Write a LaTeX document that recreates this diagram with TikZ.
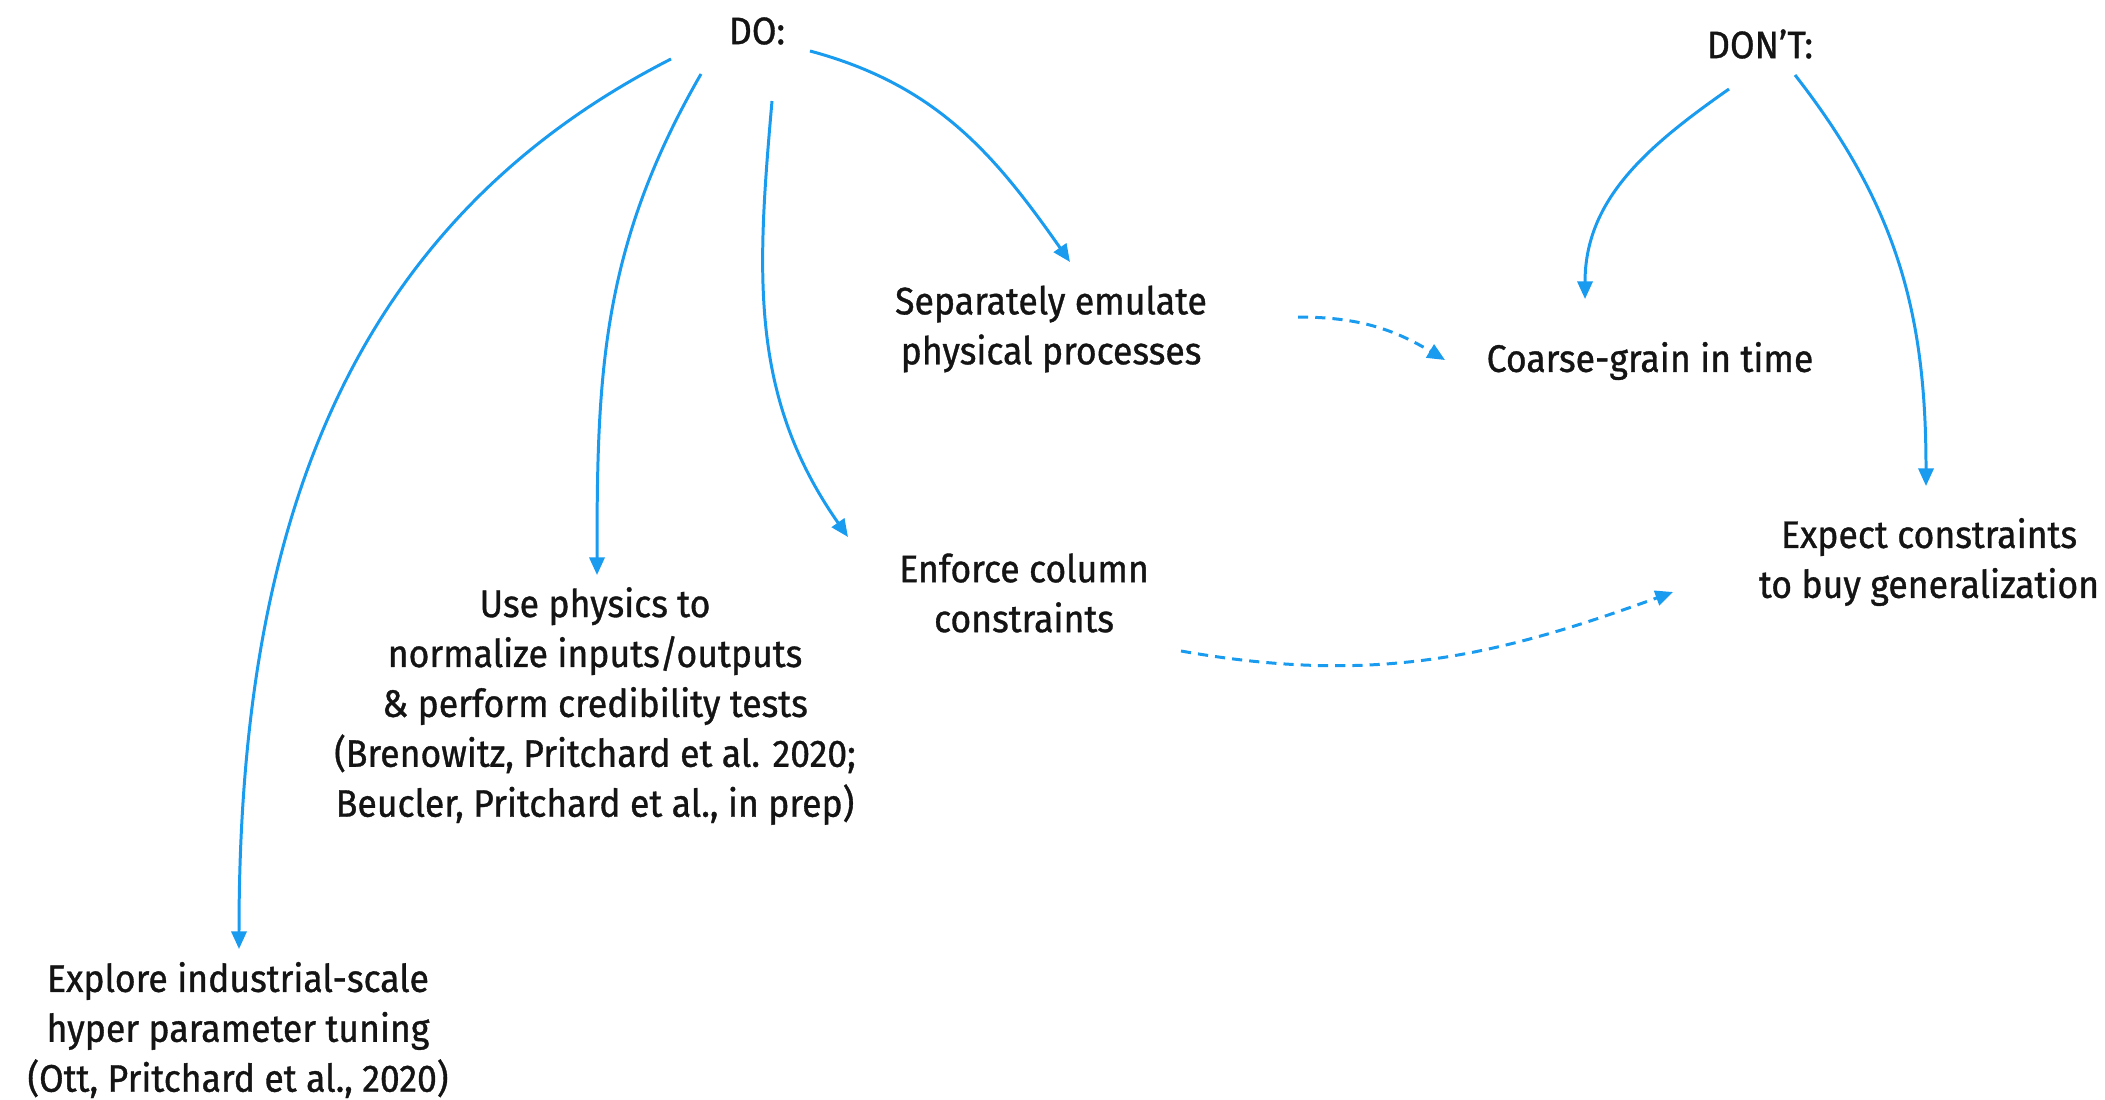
\documentclass[tikz,border=0pt]{standalone}
\usepackage{fontspec}
\setmainfont{Fira Sans}[FakeStretch=0.93,FakeBold=0.9]
\usetikzlibrary{arrows.meta}
\definecolor{tipblue}{RGB}{25,155,240}
\definecolor{ink}{RGB}{20,20,20}

\tikzset{
  item/.style={align=center, inner sep=0pt, text=ink,
    font=\fontsize{10.9}{14.2}\selectfont},
  link/.style={-{Triangle[length=5pt,width=4.3pt]}, tipblue, line width=0.85pt},
  maybe/.style={link, dash pattern=on 2.9pt off 2pt}
}

\begin{document}
\begin{tikzpicture}
  \useasboundingbox (0,0) rectangle (21.05,-10.99);

  % headings
  \node[item] (do) at (7.57,-0.31) {DO:};
  \node[item] (dont) at (17.60,-0.44) {DON’T:};

  % the do's
  \node[item] (sep) at (10.51,-3.29) {Separately emulate\\physical processes};
  \node[item] (enforce) at (10.24,-5.93) {Enforce column\\constraints};
  \node[item] (physics) at (5.95,-7.06) {Use physics to\\normalize inputs/outputs\\
    \& perform credibility tests\\(Brenowitz, Pritchard et al. 2020;\\
    Beucler, Pritchard et al., in prep)};
  \node[item] (explore) at (2.38,-10.30) {Explore industrial-scale\\
    hyper parameter tuning\\(Ott, Pritchard et al., 2020)};

  % the don'ts
  \node[item] (coarse) at (16.50,-3.61) {Coarse-grain in time};
  \node[item] (expect) at (19.29,-5.62) {Expect constraints\\to buy generalization};

  \begin{scope}[link]
    \draw ([shift={(-0.86,-0.28)}]do.center) to[out=207,in=90]
      ([shift={(0.01,0.81)}]explore.center);
    \draw ([shift={(-0.56,-0.43)}]do.center) to[out=240,in=90]
      ([shift={(0.02,1.31)}]physics.center);
    \draw ([shift={(0.15,-0.70)}]do.center) to[out=265,in=125]
      ([shift={(-1.76,0.56)}]enforce.center);
    \draw ([shift={(0.53,-0.20)}]do.center) to[out=-15,in=125]
      ([shift={(0.19,0.67)}]sep.center);
    \draw ([shift={(-0.31,-0.45)}]dont.center) to[out=215,in=90]
      ([shift={(-0.65,0.62)}]coarse.center);
    \draw ([shift={(0.35,-0.31)}]dont.center) to[out=-52,in=90]
      ([shift={(-0.03,0.76)}]expect.center);
  \end{scope}

  \begin{scope}[maybe]
    \draw ([shift={(2.47,0.12)}]sep.center) to[out=0,in=149]
      ([shift={(-2.05,0.01)}]coarse.center);
    \draw ([shift={(1.57,-0.58)}]enforce.center) to[out=-10,in=200]
      ([shift={(-2.56,-0.30)}]expect.center);
  \end{scope}
\end{tikzpicture}
\end{document}
